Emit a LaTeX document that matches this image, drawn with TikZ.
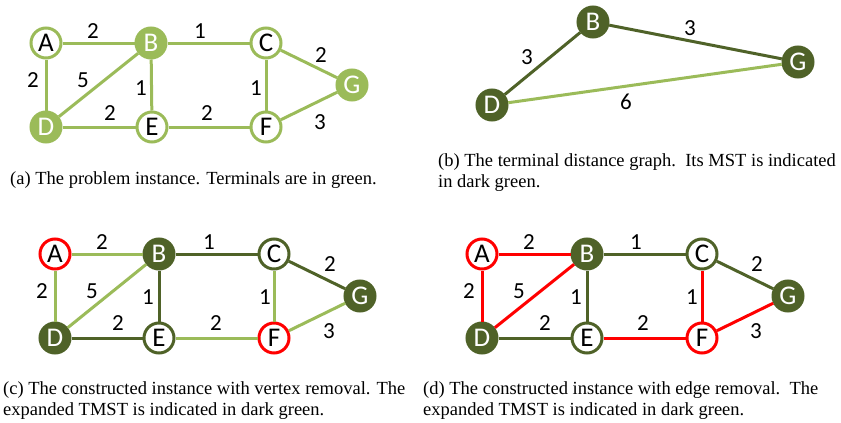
\documentclass[tikz,border=0pt]{standalone}
\usepackage{fontspec}
\setmainfont{Liberation Serif}
\newfontfamily\vfont{Carlito}
\definecolor{lgreen}{HTML}{9BBB59}
\definecolor{dgreen}{HTML}{4F6228}
\definecolor{rred}{HTML}{FF0000}
\tikzset{
  vtx/.style={circle,draw=lgreen,line width=3pt,fill=white,minimum size=30pt,inner sep=0pt,
    font=\vfont\fontsize{27}{27}\selectfont},
  term/.style={vtx,fill=lgreen,text=white},
  dterm/.style={vtx,draw=dgreen,fill=dgreen,text=white},
  dvtx/.style={vtx,draw=dgreen},
  rvtx/.style={vtx,draw=rred},
  wt/.style={inner sep=0pt,font=\vfont\fontsize{23}{23}\selectfont},
  ledge/.style={draw=lgreen,line width=3pt},
  dedge/.style={draw=dgreen,line width=3pt},
  redge/.style={draw=rred,line width=3pt},
  capt/.style={anchor=base west,align=left,inner sep=0pt,font=\fontsize{18.5}{20.5}\selectfont},
}

\begin{document}
\begin{tikzpicture}[x=1pt,y=-1pt]
	\useasboundingbox (0,0) rectangle (841,423);
	% (a) problem instance
	\node[vtx]  (aA) at (46,43){A};
	\node[term] (aB) at (151,43){B};
	\node[vtx]  (aC) at (266,43){C};
	\node[term] (aD) at (46,127){D};
	\node[vtx]  (aE) at (152,127){E};
	\node[vtx]  (aF) at (266,127){F};
	\node[term] (aG) at (352,85){G};
	\draw[ledge] (aA) -- (aB);
	\draw[ledge] (aB) -- (aC);
	\draw[ledge] (aC) -- (aG);
	\draw[ledge] (aA) -- (aD);
	\draw[ledge] (aD) -- (aB);
	\draw[ledge] (aB) -- (aE);
	\draw[ledge] (aC) -- (aF);
	\draw[ledge] (aD) -- (aE);
	\draw[ledge] (aE) -- (aF);
	\draw[ledge] (aF) -- (aG);
	\node[wt] (aAB) at (93,31){2};
	\node[wt] (aBC) at (200,31){1};
	\node[wt] (aCG) at (321,55){2};
	\node[wt] (aAD) at (33,80){2};
	\node[wt] (aDB) at (83,80){5};
	\node[wt] (aBE) at (141,88){1};
	\node[wt] (aCF) at (256,88){1};
	\node[wt] (aDE) at (110,113){2};
	\node[wt] (aEF) at (207,113){2};
	\node[wt] (aFG) at (320,122){3};
	\node[capt] (acap) at (10,184){(a) The problem instance. Terminals are in green.};

	% (b) terminal distance graph
	\node[dterm] (bB) at (593,22){B};
	\node[dterm] (bG) at (798,62){G};
	\node[dterm] (bD) at (492,105){D};
	\draw[dedge] (bD) -- (bB);
	\draw[dedge] (bB) -- (bG);
	\draw[ledge] (bD) -- (bG);
	\node[wt] (bDB) at (527,57){3};
	\node[wt] (bBG) at (690,28){3};
	\node[wt] (bDG) at (626,102){6};
	\node[capt] (bcap) at (438,187){(b) The terminal distance graph.\ \ Its MST is indicated\\in dark green.};

	% (c) vertex removal
	\begin{scope}[shift={(9,211)}]
		\node[rvtx]  (cA) at (46,43){A};
		\node[dterm] (cB) at (150,43){B};
		\node[dvtx]  (cC) at (265,43){C};
		\node[dterm] (cD) at (46,127){D};
		\node[dvtx]  (cE) at (150,127){E};
		\node[rvtx]  (cF) at (265,127){F};
		\node[dterm] (cG) at (351,85){G};
		\draw[ledge] (cA) -- (cB);
		\draw[dedge] (cB) -- (cC);
		\draw[dedge] (cC) -- (cG);
		\draw[ledge] (cA) -- (cD);
		\draw[ledge] (cD) -- (cB);
		\draw[dedge] (cB) -- (cE);
		\draw[ledge] (cC) -- (cF);
		\draw[dedge] (cD) -- (cE);
		\draw[ledge] (cE) -- (cF);
		\draw[ledge] (cF) -- (cG);
		\node[wt] (cAB) at (93,31){2};
		\node[wt] (cBC) at (200,31){1};
		\node[wt] (cCG) at (321,53){2};
		\node[wt] (cAD) at (33,80){2};
		\node[wt] (cDB) at (83,80){5};
		\node[wt] (cBE) at (139,86){1};
		\node[wt] (cCF) at (256,86){1};
		\node[wt] (cDE) at (109,112){2};
		\node[wt] (cEF) at (207,112){2};
		\node[wt] (cFG) at (320,120){3};
	\end{scope}
	\node[capt] (ccap) at (3,415){(c) The constructed instance with vertex removal. The\\expanded TMST is indicated in dark green.};

	% (d) edge removal
	\begin{scope}[shift={(436,211)}]
		\node[rvtx]  (dA) at (46,43){A};
		\node[dterm] (dB) at (151,43){B};
		\node[dvtx]  (dC) at (266,43){C};
		\node[dterm] (dD) at (46,127){D};
		\node[dvtx]  (dE) at (151,127){E};
		\node[rvtx]  (dF) at (266,127){F};
		\node[dterm] (dG) at (352,85){G};
		\draw[redge] (dA) -- (dB);
		\draw[dedge] (dB) -- (dC);
		\draw[dedge] (dC) -- (dG);
		\draw[redge] (dA) -- (dD);
		\draw[redge] (dD) -- (dB);
		\draw[dedge] (dB) -- (dE);
		\draw[redge] (dC) -- (dF);
		\draw[dedge] (dD) -- (dE);
		\draw[redge] (dE) -- (dF);
		\draw[redge] (dF) -- (dG);
		\node[wt] (dAB) at (93,31){2};
		\node[wt] (dBC) at (200,31){1};
		\node[wt] (dCG) at (321,53){2};
		\node[wt] (dAD) at (33,80){2};
		\node[wt] (dDB) at (83,80){5};
		\node[wt] (dBE) at (140,86){1};
		\node[wt] (dCF) at (256,86){1};
		\node[wt] (dDE) at (109,112){2};
		\node[wt] (dEF) at (207,112){2};
		\node[wt] (dFG) at (320,120){3};
	\end{scope}
	\node[capt] (dcap) at (423,415){(d) The constructed instance with edge removal.\ \ The\\expanded TMST is indicated in dark green.};
\end{tikzpicture}
\end{document}
